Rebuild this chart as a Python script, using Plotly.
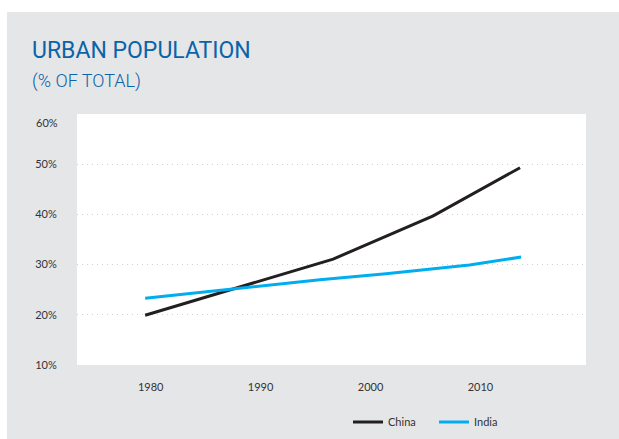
import plotly.graph_objects as go

# Data
china_years = [1979.5, 1996.6, 2005.7, 2013.6]
china_values = [19.9, 31.1, 39.7, 49.3]
india_years = [1979.5, 1995.4, 2001.4, 2009.0, 2013.7]
india_values = [23.3, 27.0, 28.2, 29.9, 31.5]

x_ticks = [1980, 1990, 2000, 2010]
y_ticks = [10, 20, 30, 40, 50]
y_tick_labels = ["10%", "20%", "30%", "40%", "50%"]
y_top_tick = 60
y_top_label = "60%"

W, H = 619, 439
L, R, T, B = 77, 33, 114, 74
pw, ph = W - L - R, H - T - B

def px_x(px):
    return (px - L) / pw

def px_y(py):
    return (H - B - py) / ph

fig = go.Figure()
fig.add_trace(go.Scatter(x=china_years, y=china_values, mode="lines", name="China",
                         line=dict(color="#231f20", width=3)))
fig.add_trace(go.Scatter(x=india_years, y=india_values, mode="lines", name="India",
                         line=dict(color="#00aeef", width=3)))

font = "Lato, 'Open Sans', sans-serif"
bg = "#e5e6e8"

fig.update_layout(
    width=W, height=H,
    margin=dict(l=L, r=R, t=T, b=B, pad=0, autoexpand=False),
    paper_bgcolor=bg,
    plot_bgcolor="white",
    font=dict(family=font, size=11, color="#333333"),
    showlegend=True,
    legend=dict(orientation="h", x=px_x(348), xanchor="left", y=px_y(422), yanchor="middle",
                bgcolor="rgba(0,0,0,0)", font=dict(size=11, color="#333333"),
                itemwidth=30, entrywidth=41, tracegroupgap=0),
    xaxis=dict(range=[1973.3, 2019.6], tickvals=x_ticks, ticktext=[str(v) for v in x_ticks],
               showgrid=False, zeroline=False, showline=False,
               ticks="outside", ticklen=12, tickcolor="rgba(0,0,0,0)",
               tickfont=dict(size=11, color="#333333")),
    yaxis=dict(range=[10, 60], tickvals=y_ticks, ticktext=y_tick_labels,
               showgrid=True, gridcolor="#d0d0d0", griddash="1px,4px", gridwidth=1,
               zeroline=False, showline=False,
               ticks="outside", ticklen=17, tickcolor="rgba(0,0,0,0)",
               tickfont=dict(size=11, color="#333333")),
    shapes=[
        dict(type="rect", xref="paper", yref="paper",
             x0=px_x(-5), x1=px_x(W + 5), y0=px_y(12), y1=px_y(-5),
             fillcolor="white", line=dict(width=0), layer="below"),
        dict(type="rect", xref="paper", yref="paper",
             x0=px_x(-5), x1=px_x(7), y0=px_y(H + 5), y1=px_y(-5),
             fillcolor="white", line=dict(width=0), layer="below"),
    ],
    annotations=[
        dict(text=y_top_label, xref="paper", yref="y",
             x=px_x(60), y=y_top_tick, yshift=-8, xanchor="right", yanchor="middle",
             showarrow=False, font=dict(family=font, size=11, color="#333333")),
        dict(text="URBAN POPULATION", xref="paper", yref="paper",
             x=px_x(30), y=px_y(50), xanchor="left", yanchor="middle", showarrow=False,
             font=dict(family="Roboto, sans-serif", weight=400, size=23, color="#0b63a8")),
        dict(text="(% OF TOTAL)", xref="paper", yref="paper",
             x=px_x(30), y=px_y(81), xanchor="left", yanchor="middle", showarrow=False,
             font=dict(family="Roboto, sans-serif", weight=300, size=18, color="#0b63a8")),
    ],
)

fig.write_html("out.html")
